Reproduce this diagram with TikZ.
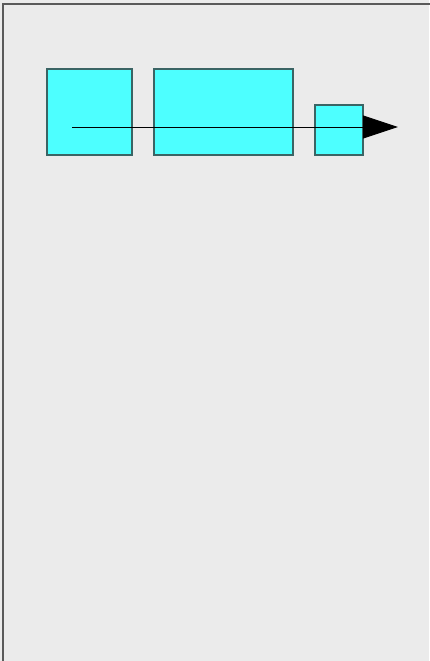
\documentclass[tikz,border=0pt]{standalone}
\usetikzlibrary{arrows.meta}
\definecolor{bg}{HTML}{EBEBEB}
\definecolor{boxfill}{HTML}{4DFFFF}
\definecolor{boxline}{HTML}{3A6464}
\definecolor{frame}{HTML}{5A5A5A}
\begin{document}
\begin{tikzpicture}[x=1pt,y=-1pt,
  blk/.style={draw=boxline,fill=boxfill,line width=1.5pt,minimum width=#1,inner sep=0pt},
  conn/.style={line width=0.9pt,-{Triangle[length=35pt,width=23pt]}}]
\useasboundingbox (0,0) rectangle (429,661);
\fill[bg] (0,0) rectangle (429,661);
\draw[frame,line width=2pt] (3,665) -- (3,4) -- (433,4);
\node[blk=85pt,minimum height=86pt] (box1) at (89.5,112) {};
\node[blk=139pt,minimum height=86pt] (box2) at (223.5,112) {};
\node[blk=48pt,minimum height=50pt] (box3) at (339,130) {};
\coordinate (start) at (72,127);
\coordinate (end) at (398,127);
\draw[conn] (start) -- (end);
\end{tikzpicture}
\end{document}
